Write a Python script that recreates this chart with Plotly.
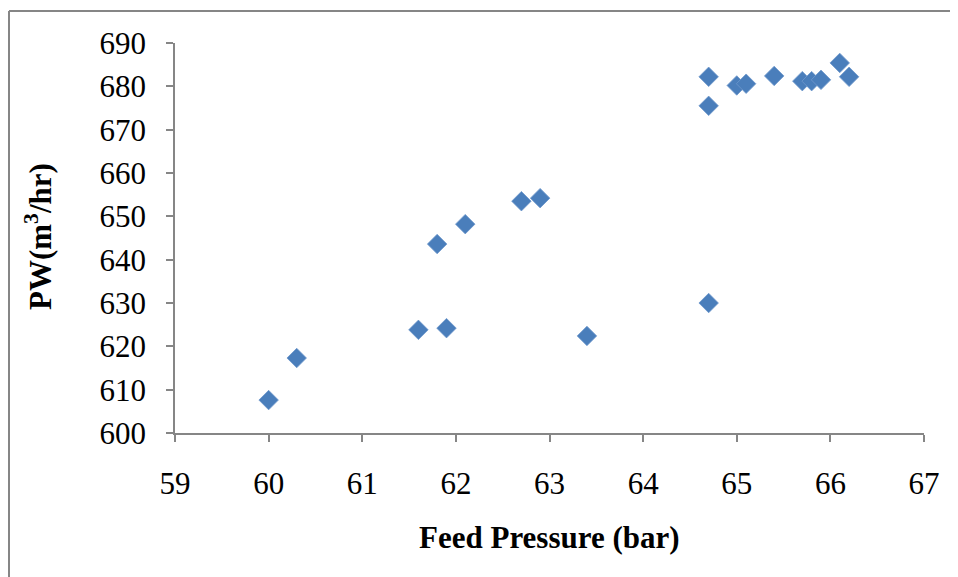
import plotly.graph_objects as go

feed_pressure = [60.0, 60.3, 61.6, 61.9, 61.8, 62.1, 62.7, 62.9, 63.4, 64.7,
                 64.7, 64.7, 65.0, 65.1, 65.4, 65.7, 65.8, 65.9, 66.1, 66.2]
pw = [607.6, 617.3, 623.8, 624.2, 643.6, 648.2, 653.5, 654.2, 622.4, 630.0,
      682.2, 675.5, 680.2, 680.6, 682.4, 681.2, 681.2, 681.5, 685.4, 682.2]

x_ticks = [59, 60, 61, 62, 63, 64, 65, 66, 67]
y_ticks = [600, 610, 620, 630, 640, 650, 660, 670, 680, 690]

# page body has an 8px margin, so figure coordinates = screen - 8
OFF = 8
W, H = 958 - OFF, 577 - OFF
L, T = 175 - OFF, 43 - OFF
R = W - (924 - OFF)
B = H - (433 - OFF)
PW_, PH_ = W - L - R, H - T - B

fig = go.Figure()
fig.add_trace(go.Scatter(
    x=feed_pressure, y=pw, mode="markers",
    marker=dict(symbol="diamond", size=15, color="#4a7ebb",
                line=dict(color="#6f98cc", width=0.8)),
    showlegend=False,
))

font_family = "Liberation Serif, Times New Roman, serif"
axis_grey = "#868686"

bx = (9 - OFF - L) / PW_          # left border in paper coords
by = 1 + (T - (11 - OFF)) / PH_   # top border in paper coords
bottom = -(H - T - PH_ + 10) / PH_
right = (W + 10 - L) / PW_

fig.update_layout(
    width=W, height=H,
    margin=dict(l=L, r=R, t=T, b=B, pad=0),
    paper_bgcolor="white", plot_bgcolor="white",
    font=dict(family=font_family, size=31, color="black"),
    xaxis=dict(range=[59, 67], tickvals=x_ticks, ticktext=[str(v) for v in x_ticks],
               showgrid=False, zeroline=False, showline=True, linecolor=axis_grey,
               linewidth=1.5, ticks="outside", ticklen=7, tickcolor=axis_grey,
               tickwidth=1.5, ticklabelstandoff=15,
               tickfont=dict(family=font_family, size=31, color="black")),
    yaxis=dict(range=[600, 690], tickvals=y_ticks, ticktext=[str(v) for v in y_ticks],
               showgrid=False, zeroline=False, showline=True, linecolor=axis_grey,
               linewidth=1.5, ticks="outside", ticklen=7, tickcolor=axis_grey,
               tickwidth=1.5, ticklabelstandoff=14,
               tickfont=dict(family=font_family, size=31, color="black")),
    shapes=[
        dict(type="line", xref="paper", yref="paper", x0=bx, x1=right, y0=by, y1=by,
             line=dict(color=axis_grey, width=2), layer="below"),
        dict(type="line", xref="paper", yref="paper", x0=bx, x1=bx, y0=by, y1=bottom,
             line=dict(color=axis_grey, width=2), layer="below"),
    ],
    annotations=[
        dict(text="<b>Feed Pressure (bar)</b>", xref="paper", yref="paper",
             x=0.5, y=0, xanchor="center", yanchor="middle",
             yshift=-(537 - 433), showarrow=False,
             font=dict(family=font_family, size=31, color="black")),
        dict(text="<b>PW(m<sup>3</sup>/hr)</b>", xref="paper", yref="paper",
             x=0, y=(433 - 237) / PH_, xanchor="center", yanchor="middle",
             xshift=38 - 175, textangle=-90, showarrow=False,
             font=dict(family=font_family, size=31, color="black")),
    ],
)

fig.write_html("out.html", config={"displayModeBar": False})
